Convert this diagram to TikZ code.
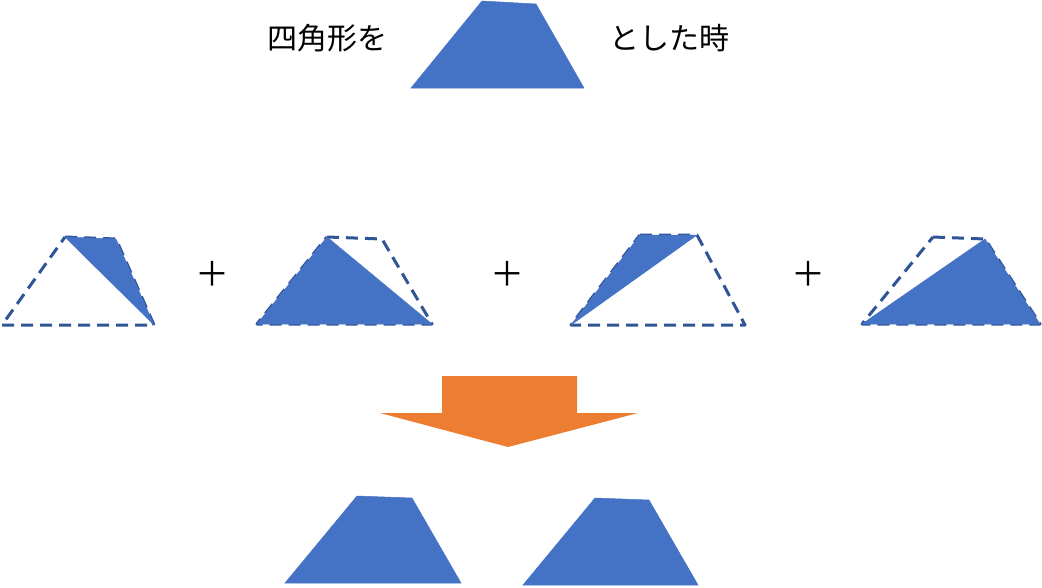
\documentclass[tikz,border=0pt]{standalone}
\usepackage{fontspec}
\newfontfamily\jpfont{Noto Sans CJK JP}
\definecolor{quadblue}{HTML}{4472C4}
\definecolor{edgeblue}{HTML}{2F5597}
\definecolor{arroworange}{HTML}{ED7D31}
\begin{document}
\begin{tikzpicture}[x=1pt,y=-1pt,
		piece/.style={fill=quadblue,draw=quadblue,line width=0.5pt},
		outline/.style={draw=edgeblue,line width=3pt,dash pattern=on 12pt off 7pt,line join=round},
		word/.style={font=\jpfont\fontsize{30}{32}\selectfont,inner sep=0pt},
		plus/.style={font=\jpfont\fontsize{34}{34}\selectfont,inner sep=0pt}]
		\useasboundingbox (0,0) rectangle (1042,587);

		% the quadrilateral
		\node[word] (head) at (327,38) {四角形を};
		\fill[piece] (482,1) -- (536,4) -- (584,88) -- (411,88) -- cycle;
		\node[word] (tail) at (669,38) {とした時};

		% the four triangles
		\draw[outline] (65,237) -- (116,239) -- (154,325) -- (2,325) -- cycle;
		\fill[piece] (65,237) -- (116,239) -- (154,325) -- cycle;
		\node[plus] (plusA) at (212,274) {＋};

		\draw[outline] (327,237) -- (382,239) -- (432,324) -- (257,324) -- cycle;
		\fill[piece] (327,237) -- (432,324) -- (257,324) -- cycle;
		\node[plus] (plusB) at (507,274) {＋};

		\draw[outline] (640,235) -- (697,235) -- (745,325) -- (571,325) -- cycle;
		\fill[piece] (640,235) -- (697,235) -- (571,325) -- cycle;
		\node[plus] (plusC) at (808,274) {＋};

		\draw[outline] (933,237) -- (985,239) -- (1040,324) -- (862,324) -- cycle;
		\fill[piece] (985,239) -- (1040,324) -- (862,324) -- cycle;

		% arrow
		\fill[arroworange] (442,376) -- (577,376) -- (577,413) -- (638,413) -- (508,447) -- (380,413) -- (442,413) -- cycle;

		% the result
		\fill[piece] (357,496) -- (412,498) -- (461,583) -- (285,583) -- cycle;
		\fill[piece] (595,498) -- (649,500) -- (698,585) -- (523,585) -- cycle;
	\end{tikzpicture}
\end{document}
